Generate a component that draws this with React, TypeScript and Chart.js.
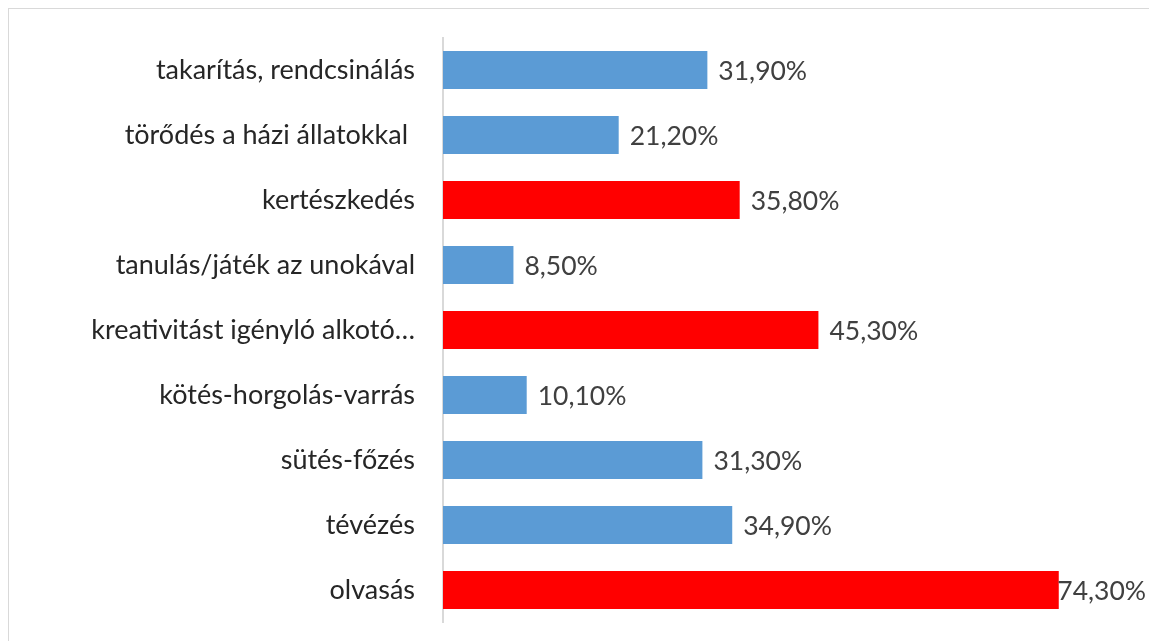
import React, { useEffect, useRef } from "react";
import { Chart, registerables } from "chart.js";

Chart.register(...registerables);

const categories = [
  "takarítás, rendcsinálás",
  "törődés a házi állatokkal ",
  "kertészkedés",
  "tanulás/játék az unokával",
  "kreativitást igényló alkotó…",
  "kötés-horgolás-varrás",
  "sütés-főzés",
  "tévézés",
  "olvasás",
];
const values = [31.9, 21.2, 35.8, 8.5, 45.3, 10.1, 31.3, 34.9, 74.3];
const highlighted = [false, false, true, false, true, false, false, false, true];
const valueLabels = ["31,90%", "21,20%", "35,80%", "8,50%", "45,30%", "10,10%", "31,30%", "34,90%", "74,30%"];

const BLUE = "#5B9BD5";
const RED = "#FF0000";
const FONT = "Lato, 'Open Sans', sans-serif";

const valueLabelPlugin = {
  id: "valueLabels",
  afterDatasetsDraw(chart: any) {
    const ctx = chart.ctx;
    const meta = chart.getDatasetMeta(0);
    ctx.save();
    ctx.font = `26.5px ${FONT}`;
    ctx.fillStyle = "#404040";
    ctx.textAlign = "left";
    ctx.textBaseline = "middle";
    meta.data.forEach((bar: any, i: number) => {
      const w = ctx.measureText(valueLabels[i]).width;
      const x = Math.min(bar.x + 11, chart.width - 3 - w);
      ctx.fillText(valueLabels[i], x, bar.y + 1);
    });
    ctx.restore();
  },
};

export default function App() {
  const canvasRef = useRef<HTMLCanvasElement | null>(null);

  useEffect(() => {
    document.body.style.overflow = "hidden";
    let chart: Chart | null = null;
    let cancelled = false;
    const build = () => {
      if (cancelled || !canvasRef.current) return;
      chart = new Chart(canvasRef.current, {
        type: "bar",
        data: {
          labels: categories,
          datasets: [
            {
              data: values,
              backgroundColor: highlighted.map((h) => (h ? RED : BLUE)),
              borderWidth: 0,
              barPercentage: 0.585,
              categoryPercentage: 1,
            },
          ],
        },
        options: {
          indexAxis: "y",
          responsive: false,
          animation: false,
          layout: { padding: { top: 28.5, bottom: 18.5, left: 0, right: 43 } },
          plugins: {
            legend: { display: false },
            tooltip: { enabled: false },
          },
          scales: {
            x: {
              display: false,
              min: 0,
              max: 80,
            },
            y: {
              grid: { display: false, drawTicks: false },
              border: { display: true, color: "#d9d9d9", width: 2 },
              ticks: {
                padding: 28,
                color: "#262626",
                font: { family: FONT, size: 27 },
              },
              afterFit(scale: any) {
                scale.width = 434;
                scale.paddingTop = 0;
                scale.paddingBottom = 0;
              },
            },
          },
        },
        plugins: [valueLabelPlugin],
      });
    };
    const fontsReady = (document as any).fonts
      ? Promise.all([
          (document as any).fonts.load(`27px Lato`),
          (document as any).fonts.load(`26.5px Lato`),
        ]).catch(() => null)
      : Promise.resolve(null);
    fontsReady.then(build);
    return () => {
      cancelled = true;
      if (chart) chart.destroy();
    };
  }, []);

  return (
    <div
      style={{
        position: "fixed",
        left: 8,
        top: 8,
        borderTop: "1px solid #d9d9d9",
        borderLeft: "1px solid #d9d9d9",
        width: 1140,
        height: 632,
        background: "#fff",
        overflow: "hidden",
      }}
    >
      <canvas ref={canvasRef} width={1140} height={632} style={{ display: "block" }} />
    </div>
  );
}
